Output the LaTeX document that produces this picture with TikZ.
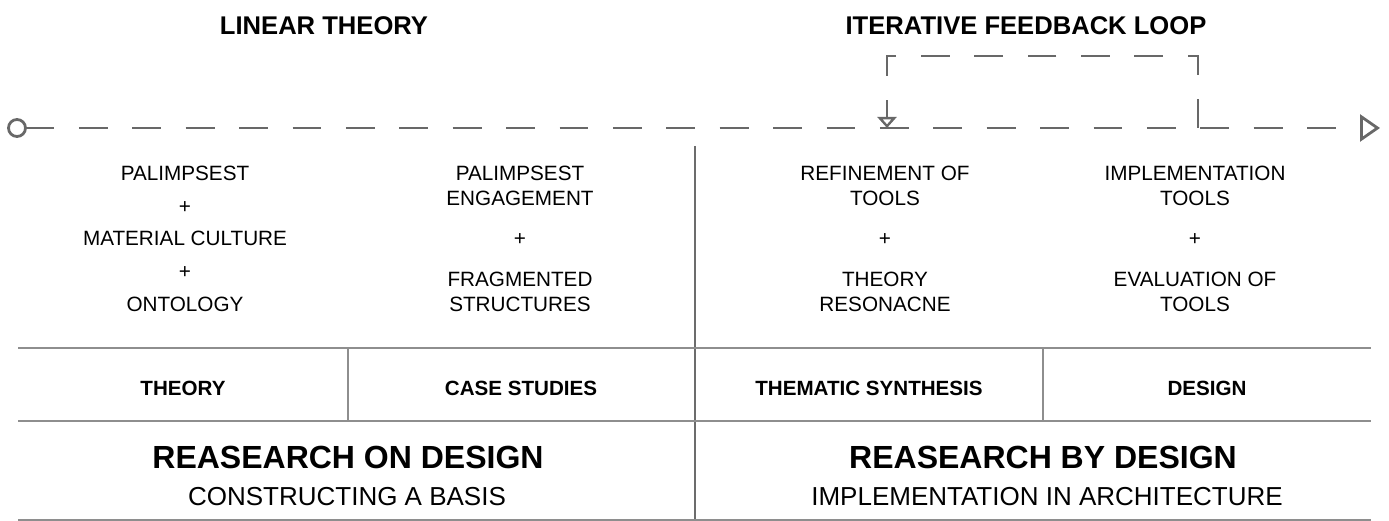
\documentclass[tikz,border=0pt]{standalone}
\usepackage{fontspec}
\setmainfont{Liberation Sans}
\usetikzlibrary{arrows.meta}
\definecolor{linegray}{HTML}{686868}
\definecolor{tablegray}{HTML}{8E8E8E}
\definecolor{divgray}{HTML}{6C6C6C}
\tikzset{
  body/.style={font=\fontsize{20.7}{24}\selectfont, anchor=base, inner sep=0pt},
  title/.style={font=\bfseries\fontsize{25.6}{30}\selectfont, anchor=base, inner sep=0pt},
  cell/.style={font=\bfseries\fontsize{20.6}{24}\selectfont, anchor=base, inner sep=0pt},
  big/.style={font=\bfseries\fontsize{32}{36}\selectfont, anchor=base, inner sep=0pt},
  sub/.style={font=\fontsize{26}{30}\selectfont, anchor=base, inner sep=0pt},
  flow/.style={draw=linegray, line width=2.8pt, dash pattern=on 28.8pt off 24.6pt},
  rulel/.style={draw=tablegray, line width=2pt},
  divl/.style={draw=divgray, line width=2.8pt},
  startdot/.style={circle, draw=linegray, line width=2.8pt, minimum size=17pt, inner sep=0pt, outer sep=0pt},
}
\begin{document}
\begin{tikzpicture}[x=1pt,y=-1pt]
\useasboundingbox (0,0) rectangle (1389,521);

% titles
\node[title] (t1) at (324,35) {LINEAR THEORY};
\node[title] (t2) at (1026,35) {ITERATIVE FEEDBACK LOOP};

% main flow line
\node[startdot] (start) at (17,128) {};
\coordinate (fend) at (1380,128);
\draw[flow, -{Triangle[open,length=20pt,width=27pt,line width=2.8pt]}] (start.east) -- (fend);

% feedback loop
\coordinate (lr) at (1198,128);
\coordinate (lrt) at (1198,56);
\coordinate (llt) at (887,56);
\coordinate (ll) at (887,128);
\draw[flow, -{Triangle[open,length=11pt,width=19pt,line width=2.4pt]}] (lr) -- (lrt) -- (llt) -- (ll);

% central divider
\coordinate (dtop) at (695,146);
\coordinate (dbot) at (695,521);
\draw[divl] (dtop) -- (dbot);

% table rules
\coordinate (r1l) at (18,348); \coordinate (r1r) at (1371,348);
\coordinate (r2l) at (18,421); \coordinate (r2r) at (1371,421);
\coordinate (r3l) at (18,520); \coordinate (r3r) at (1371,520);
\draw[rulel] (r1l) -- (r1r);
\draw[rulel] (r2l) -- (r2r);
\draw[rulel] (r3l) -- (r3r);
\coordinate (c1t) at (348,348); \coordinate (c1b) at (348,421);
\coordinate (c2t) at (1043,348); \coordinate (c2b) at (1043,421);
\draw[rulel] (c1t) -- (c1b);
\draw[rulel] (c2t) -- (c2b);

% column 1
\node[body] (a1) at (185,180.5) {PALIMPSEST};
\node[body] (a2) at (185,213.2) {+};
\node[body] (a3) at (185,246) {MATERIAL CULTURE};
\node[body] (a4) at (185,278.7) {+};
\node[body] (a5) at (185,311.5) {ONTOLOGY};

% column 2
\node[body] (b1) at (520,181) {PALIMPSEST};
\node[body] (b2) at (520,205.5) {ENGAGEMENT};
\node[body] (b3) at (520,245.5) {+};
\node[body] (b4) at (520,286.5) {FRAGMENTED};
\node[body] (b5) at (520,311) {STRUCTURES};

% column 3
\node[body] (d1) at (885,181) {REFINEMENT OF};
\node[body] (d2) at (885,205.5) {TOOLS};
\node[body] (d3) at (885,245.5) {+};
\node[body] (d4) at (885,286.5) {THEORY};
\node[body] (d5) at (885,311) {RESONACNE};

% column 4
\node[body] (e1) at (1195,181) {IMPLEMENTATION};
\node[body] (e2) at (1195,205.5) {TOOLS};
\node[body] (e3) at (1195,245.5) {+};
\node[body] (e4) at (1195,286.5) {EVALUATION OF};
\node[body] (e5) at (1195,311) {TOOLS};

% cells
\node[cell] (k1) at (183,395) {THEORY};
\node[cell] (k2) at (521,395) {CASE STUDIES};
\node[cell] (k3) at (869,395) {THEMATIC SYNTHESIS};
\node[cell] (k4) at (1207,395) {DESIGN};

% big headings
\node[big] (h1) at (348,468) {REASEARCH ON DESIGN};
\node[sub] (s1) at (347,505) {CONSTRUCTING A BASIS};
\node[big] (h2) at (1043,468) {REASEARCH BY DESIGN};
\node[sub] (s2) at (1047,505) {IMPLEMENTATION IN ARCHITECTURE};
\end{tikzpicture}
\end{document}
